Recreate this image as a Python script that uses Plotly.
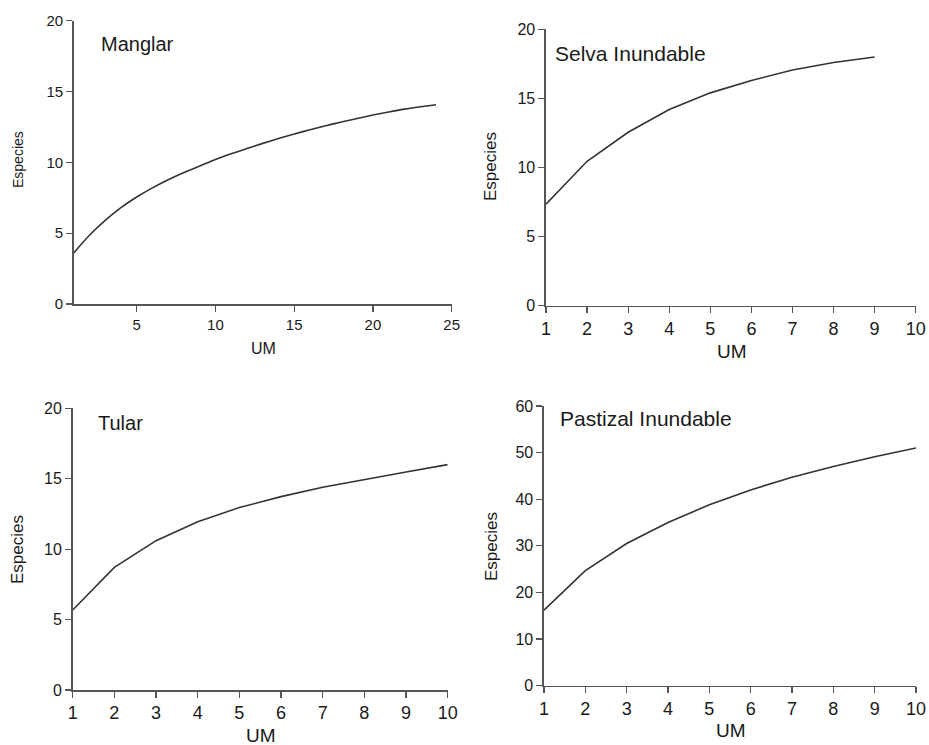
import plotly.graph_objects as go

W, H = 929, 745

# ---- data ----
manglar_x = list(range(1, 25))
manglar_y = [3.6, 4.85, 5.9, 6.8, 7.55, 8.2, 8.77, 9.28, 9.75, 10.2, 10.6, 10.98,
             11.34, 11.68, 12.0, 12.3, 12.58, 12.85, 13.1, 13.34, 13.56, 13.76, 13.93, 14.07]

selva_x = list(range(1, 10))
selva_y = [7.35, 10.45, 12.55, 14.2, 15.4, 16.3, 17.05, 17.6, 18.0]

tular_x = list(range(1, 11))
tular_y = [5.68, 8.71, 10.6, 11.95, 12.95, 13.73, 14.39, 14.96, 15.48, 16.0]

pastizal_x = list(range(1, 11))
pastizal_y = [16.2, 24.7, 30.5, 35.0, 38.8, 42.0, 44.7, 47.0, 49.1, 51.0]

titles = ["Manglar", "Selva Inundable", "Tular", "Pastizal Inundable"]
x_title = "UM"
y_title = "Especies"

manglar_xticks = [5, 10, 15, 20, 25]
um_ticks = list(range(1, 11))


def fx(px):
    return px / W


def fy(py):
    return 1 - py / H


FONT = "Liberation Sans, Arial, Helvetica, sans-serif"
TXT = "#1a1a1a"
AX = "#555555"
LINE = "#333333"

fig = go.Figure()

panels = [
    (manglar_x, manglar_y, "x", "y", (73.7, 451.7), (20.7, 304.0), [1, 25], [0, 20], manglar_xticks, 5, 15, 15, "spline"),
    (selva_x, selva_y, "x2", "y2", (546.0, 915.7), (29.3, 305.7), [1, 10], [0, 20], um_ticks, 5, 18, 16, "linear"),
    (tular_x, tular_y, "x3", "y3", (72.7, 447.7), (408.3, 690.0), [1, 10], [0, 20], um_ticks, 5, 18, 16, "linear"),
    (pastizal_x, pastizal_y, "x4", "y4", (544.0, 916.0), (406.0, 685.7), [1, 10], [0, 60], um_ticks, 10, 18, 16, "linear"),
]

layout = dict(
    width=W, height=H, margin=dict(l=0, r=0, t=0, b=0, autoexpand=False),
    paper_bgcolor="white", plot_bgcolor="white", showlegend=False,
    font=dict(family=FONT, color=TXT),
)

for i, (xs, ys, xa, ya, xd, yd, xr, yr, xt, ydt, xfs, yfs, shape) in enumerate(panels):
    fig.add_trace(go.Scatter(x=xs, y=ys, mode="lines", xaxis=xa, yaxis=ya,
                             line=dict(color=LINE, width=1.6, shape=shape, smoothing=0.8),
                             hoverinfo="skip", cliponaxis=False))
    xkey = "xaxis" if xa == "x" else "xaxis" + xa[1:]
    ykey = "yaxis" if ya == "y" else "yaxis" + ya[1:]
    layout[xkey] = dict(
        domain=[fx(xd[0]), fx(xd[1])], range=xr, anchor=ya, automargin=False,
        tickmode="array", tickvals=xt, ticks="outside", ticklen=6, tickwidth=1.3,
        tickcolor=AX, showline=True, linecolor=AX, linewidth=1.6,
        showgrid=False, zeroline=False, tickfont=dict(size=xfs, color=TXT, family=FONT),
        fixedrange=True,
    )
    layout[ykey] = dict(
        domain=[fy(yd[1]), fy(yd[0])], range=yr, anchor=xa, automargin=False,
        tick0=0, dtick=ydt, ticks="outside", ticklen=6, tickwidth=1.3,
        tickcolor=AX, showline=True, linecolor=AX, linewidth=1.6,
        showgrid=False, zeroline=False, tickfont=dict(size=yfs, color=TXT, family=FONT),
        fixedrange=True,
    )

fig.update_layout(**layout)

title_pos = [(99, 44), (553, 53), (96, 423), (558, 418)]
title_sizes = [20, 21, 20, 21]
for t, (px, py), s in zip(titles, title_pos, title_sizes):
    fig.add_annotation(text=t, xref="paper", yref="paper", x=fx(px), y=fy(py),
                       xanchor="left", yanchor="middle", showarrow=False,
                       font=dict(size=s, color=TXT, family=FONT))

um_pos = [(263, 348, 16), (732, 351, 19), (261, 735, 19), (731, 730, 19)]
for px, py, s in um_pos:
    fig.add_annotation(text=x_title, xref="paper", yref="paper", x=fx(px), y=fy(py),
                       xanchor="center", yanchor="middle", showarrow=False,
                       font=dict(size=s, color=TXT, family=FONT))

esp_pos = [(18, 160, 14), (491, 167, 17), (17, 550, 17), (491, 547, 17)]
for px, py, s in esp_pos:
    fig.add_annotation(text=y_title, xref="paper", yref="paper", x=fx(px), y=fy(py),
                       xanchor="center", yanchor="middle", showarrow=False, textangle=-90,
                       font=dict(size=s, color=TXT, family=FONT))

fig.write_html("out.html", config={"displayModeBar": False, "staticPlot": True},
               post_script="document.body.style.margin='0px';document.body.style.padding='0px';")
